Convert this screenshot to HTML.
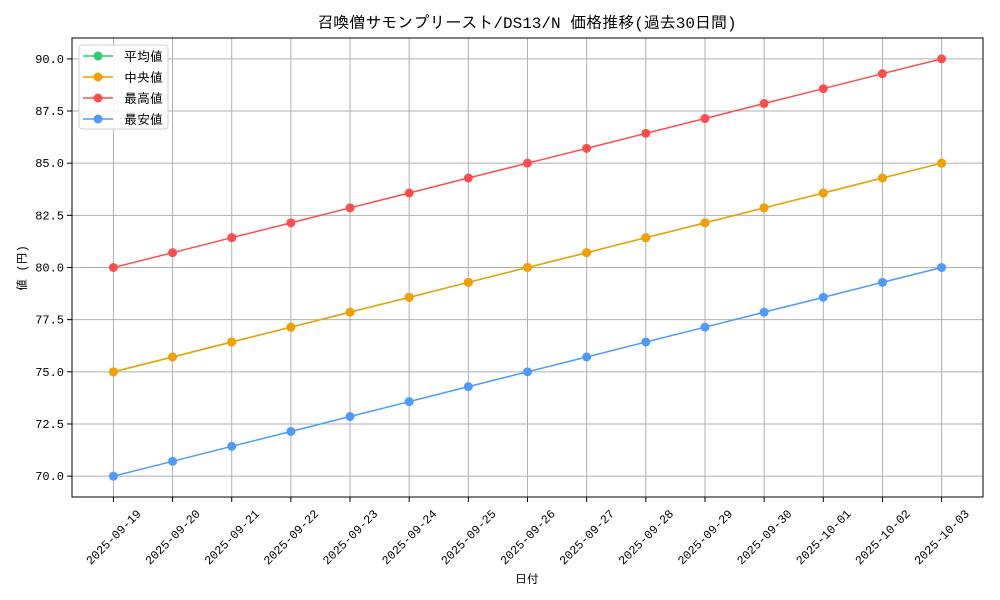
<!DOCTYPE html>
<html><head><meta charset="utf-8">
<style>
body{margin:0;background:#fff;}
svg{display:block;font-family:"Liberation Mono","IPAGothic","Noto Sans CJK JP",monospace;}
</style></head>
<body>
<svg id="chart" width="1000" height="600"></svg>
<script>
const categories=["2025-09-19","2025-09-20","2025-09-21","2025-09-22","2025-09-23","2025-09-24","2025-09-25","2025-09-26","2025-09-27","2025-09-28","2025-09-29","2025-09-30","2025-10-01","2025-10-02","2025-10-03"];
const avgValues=[75,75.71,76.43,77.14,77.86,78.57,79.29,80,80.71,81.43,82.14,82.86,83.57,84.29,85];
const medianValues=[75,75.71,76.43,77.14,77.86,78.57,79.29,80,80.71,81.43,82.14,82.86,83.57,84.29,85];
const maxValues=[80,80.71,81.43,82.14,82.86,83.57,84.29,85,85.71,86.43,87.14,87.86,88.57,89.29,90];
const minValues=[70,70.71,71.43,72.14,72.86,73.57,74.29,75,75.71,76.43,77.14,77.86,78.57,79.29,80];
const yTicks=[70,72.5,75,77.5,80,82.5,85,87.5,90];
const seriesNames=["平均値","中央値","最高値","最安値"];
const seriesColors=["#2ecc71","#f5a000","#ff4d4d","#4d9bff"];

const NS="http://www.w3.org/2000/svg";
const svg=document.getElementById('chart');
const L=72,R=983,T=38,B=497;
const yMin=69,yMax=91;
const n=categories.length;
const xLo=-0.7,xHi=n-1+0.7;
function xs(i){return L+(i-xLo)/(xHi-xLo)*(R-L);}
function ys(v){return B-(v-yMin)/(yMax-yMin)*(B-T);}
function mk(tag,attrs,parent){const e=document.createElementNS(NS,tag);for(const k in attrs)e.setAttribute(k,attrs[k]);(parent||svg).appendChild(e);return e;}

const grid=mk('g',{});


categories.forEach((c,i)=>{
  const x=xs(i);
  mk('line',{x1:x,x2:x,y1:T,y2:B,stroke:'#b0b0b0','stroke-width':1},grid);
  const t=mk('line',{x1:x,x2:x,y1:B,y2:B+5,stroke:'#000','stroke-width':1});
  
  
  const lb=mk('text',{x:x,y:541,'text-anchor':'middle','font-size':12,transform:`rotate(-45 ${x} 537)`});
  lb.textContent=c;
  
  
});
yTicks.forEach(v=>{
  const y=ys(v);
  mk('line',{x1:L,x2:R,y1:y,y2:y,stroke:'#b0b0b0','stroke-width':1},grid);
  mk('line',{x1:L-5,x2:L,y1:y,y2:y,stroke:'#000','stroke-width':1});
  const lb=mk('text',{x:L-8,y:y+4,'text-anchor':'end','font-size':12});
  lb.textContent=v.toFixed(1);
  
  
});

const allSeries=[avgValues,medianValues,maxValues,minValues];
allSeries.forEach((vals,s)=>{
  const g=mk('g',{});
  
  
  mk('polyline',{points:vals.map((v,i)=>xs(i)+','+ys(v)).join(' '),fill:'none',stroke:seriesColors[s],'stroke-width':1.5},g);
  vals.forEach((v,i)=>{
    const c=mk('circle',{cx:xs(i),cy:ys(v),r:4.5,fill:seriesColors[s]},g);
    
    
  });
});

const frame=mk('rect',{x:L,y:T,width:R-L,height:B-T,fill:'none',stroke:'#000','stroke-width':1});



const lg=mk('g',{});


mk('rect',{x:79,y:45,width:89,height:84,rx:3,fill:'#fff','fill-opacity':0.85,stroke:'#d0d0d0'},lg);
seriesNames.forEach((nm,s)=>{
  const y=56+s*21;
  const e=mk('g',{},lg);
  
  
  mk('line',{x1:83,x2:113,y1:y,y2:y,stroke:seriesColors[s],'stroke-width':1.5},e);
  mk('circle',{cx:98,cy:y,r:4.5,fill:seriesColors[s]},e);
  const t=mk('text',{x:124,y:y+5,'font-size':13},e);
  t.textContent=nm;
});

const title=mk('text',{x:527,y:28,'text-anchor':'middle','font-size':16});
title.textContent='召喚僧サモンプリースト/DS13/N 価格推移(過去30日間)';


const xt=mk('text',{x:527,y:583,'text-anchor':'middle','font-size':12});
xt.textContent='日付';


const yt=mk('text',{x:26,y:268,'text-anchor':'middle','font-size':12,transform:'rotate(-90 26 268)'});
yt.textContent='値 (円)';


</script>
</body></html>
